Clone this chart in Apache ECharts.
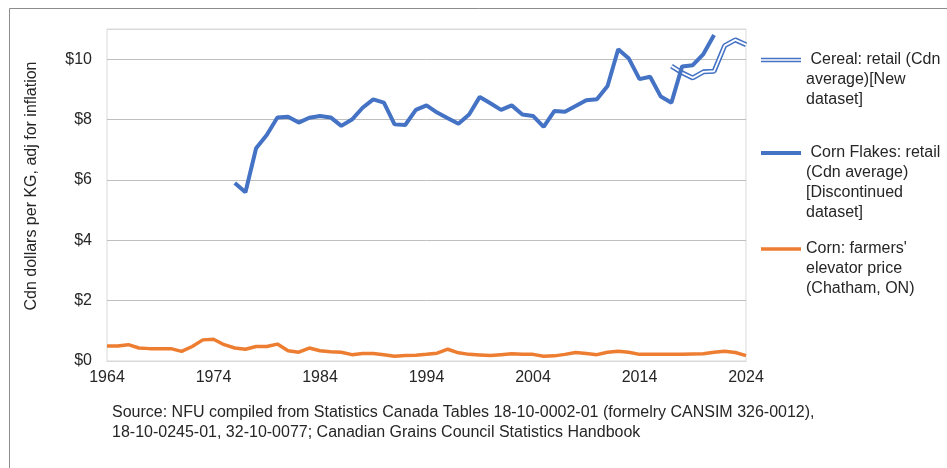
<!DOCTYPE html>
<html>
<head>
<meta charset="utf-8">
<script src="https://cdn.jsdelivr.net/npm/echarts@6/dist/echarts.min.js"></script>
<style>
  html, body { margin: 0; padding: 0; background: #fff; }
  #chart { width: 947px; height: 468px; }
</style>
</head>
<body>
<div id="chart"></div>
<script>
// corn flakes retail, discontinued dataset
const flakesYears = [1976, 1977, 1978, 1979, 1980, 1981, 1982, 1983, 1984, 1985, 1986, 1987, 1988, 1989, 1990,
  1991, 1992, 1993, 1994, 1995, 1996, 1997, 1998, 1999, 2000, 2001, 2002, 2003, 2004, 2005, 2006, 2007, 2008,
  2009, 2010, 2011, 2012, 2013, 2014, 2015, 2016, 2017, 2018, 2019, 2020, 2021]
const flakesValues = [5.90, 5.59, 7.05, 7.49, 8.07, 8.09, 7.90, 8.06, 8.12, 8.07, 7.79, 8.00, 8.39, 8.67, 8.56,
  7.84, 7.82, 8.32, 8.47, 8.23, 8.04, 7.86, 8.17, 8.75, 8.54, 8.32, 8.47, 8.17, 8.12, 7.76, 8.28, 8.26, 8.45,
  8.64, 8.67, 9.11, 10.33, 10.02, 9.34, 9.42, 8.76, 8.56, 9.76, 9.80, 10.17, 10.80]

// cereal retail, new dataset
const cerealYears = [2017, 2018, 2019, 2020, 2021, 2022, 2023, 2024]
const cerealValues = [9.77, 9.55, 9.38, 9.58, 9.60, 10.45, 10.64, 10.48]

// corn, farmers' elevator price
const cornYears = [1964, 1965, 1966, 1967, 1968, 1969, 1970, 1971, 1972, 1973, 1974, 1975, 1976, 1977, 1978,
  1979, 1980, 1981, 1982, 1983, 1984, 1985, 1986, 1987, 1988, 1989, 1990, 1991, 1992, 1993, 1994, 1995, 1996,
  1997, 1998, 1999, 2000, 2001, 2002, 2003, 2004, 2005, 2006, 2007, 2008, 2009, 2010, 2011, 2012, 2013, 2014,
  2015, 2016, 2017, 2018, 2019, 2020, 2021, 2022, 2023, 2024]
const cornValues = [0.50, 0.50, 0.54, 0.43, 0.41, 0.41, 0.41, 0.32, 0.48, 0.70, 0.72, 0.54, 0.43, 0.39, 0.48,
  0.48, 0.56, 0.34, 0.29, 0.43, 0.34, 0.31, 0.29, 0.21, 0.25, 0.25, 0.21, 0.16, 0.18, 0.19, 0.22, 0.26, 0.39,
  0.27, 0.22, 0.20, 0.18, 0.21, 0.24, 0.22, 0.22, 0.16, 0.17, 0.22, 0.28, 0.25, 0.21, 0.29, 0.32, 0.29, 0.22,
  0.22, 0.22, 0.22, 0.22, 0.23, 0.24, 0.29, 0.32, 0.28, 0.18]

const seriesNames = [
  ' Cereal: retail (Cdn\naverage)[New\ndataset]',
  ' Corn Flakes: retail\n(Cdn average)\n[Discontinued\ndataset]',
  'Corn: farmers\'\nelevator price\n(Chatham, ON)'
]
const sourceText = 'Source: NFU compiled from Statistics Canada Tables 18-10-0002-01 (formelry CANSIM 326-0012),\n18-10-0245-01, 32-10-0077; Canadian Grains Council Statistics Handbook'

const pair = (xs, ys) => xs.map((x, i) => [x, ys[i]])
const FONT = 'Liberation Sans, Arial, sans-serif'
const BLUE = '#4472c4'
const ORANGE = '#ed7d31'
const TEXT = '#262626'

// one legend per series; blank lines in front keep the icon level with the first text line
function legendBlock(name, iconY, icon) {
  const lines = name.split('\n').length
  return {
    data: [{ name, icon }],
    orient: 'vertical',
    left: 761,
    top: iconY - (lines - 1) * 20 - 10,
    padding: 0,
    itemWidth: 40,
    itemHeight: 5,
    selectedMode: false,
    formatter: n => '\n'.repeat(lines - 1) + n,
    textStyle: { fontFamily: FONT, fontSize: 16, color: TEXT, lineHeight: 20 }
  }
}

const chart = echarts.init(document.getElementById('chart'), null, { renderer: 'canvas' })
chart.setOption({
  animation: false,
  backgroundColor: '#fff',
  grid: {
    left: 107,
    right: 201,
    top: 29,
    bottom: 107,
    show: true,
    borderColor: '#d9d9d9',
    borderWidth: 1
  },
  legend: [
    legendBlock(seriesNames[0], 60, 'path://M0,0H40V1.4H0ZM0,3.1H40V4.5H0Z'),
    legendBlock(seriesNames[1], 153, 'path://M0,0H40V4H0Z'),
    legendBlock(seriesNames[2], 249, 'path://M0,0H40V3.5H0Z')
  ],
  xAxis: {
    type: 'value',
    min: 1964,
    max: 2024,
    interval: 10,
    axisLine: { show: true, lineStyle: { color: '#d9d9d9' } },
    axisTick: { show: false },
    splitLine: { show: false },
    axisLabel: { color: TEXT, fontFamily: FONT, fontSize: 16, margin: 9, formatter: v => String(v) }
  },
  yAxis: {
    type: 'value',
    min: 0,
    max: 11,
    interval: 2,
    name: 'Cdn dollars per KG, adj for inflation',
    nameLocation: 'middle',
    nameGap: 67,
    nameTextStyle: { color: TEXT, fontFamily: FONT, fontSize: 16, padding: [0, 0, 0, 18] },
    axisLine: { show: false },
    axisTick: { show: false },
    splitLine: {
      show: true,
      lineStyle: { color: ['#d9d9d9', '#bfbfbf', '#bfbfbf', '#bfbfbf', '#bfbfbf', '#bfbfbf', '#d9d9d9'], width: 1 }
    },
    axisLabel: {
      color: TEXT, fontFamily: FONT, fontSize: 16, margin: 15,
      formatter: v => (v % 2 === 0 ? '$' + v : '')
    }
  },
  graphic: [
    {
      type: 'rect',
      shape: { x: 9.5, y: 8.5, width: 1200, height: 1200 },
      style: { fill: null, stroke: '#8c8c8c', lineWidth: 1 },
      silent: true
    },
    {
      type: 'text',
      left: 112,
      top: 403,
      style: { text: sourceText, fontFamily: FONT, fontSize: 16, lineHeight: 20, fill: TEXT }
    }
  ],
  series: [
    {
      name: seriesNames[0],
      type: 'line',
      data: pair(cerealYears, cerealValues),
      symbol: 'none',
      color: BLUE,
      lineStyle: { color: BLUE, width: 5 },
      z: 2
    },
    {
      // white core that turns the cereal stroke into a double line
      name: 'cereal-core',
      type: 'line',
      data: pair(cerealYears, cerealValues),
      symbol: 'none',
      lineStyle: { color: '#fff', width: 1.8 },
      z: 3,
      silent: true
    },
    {
      name: seriesNames[1],
      type: 'line',
      data: pair(flakesYears, flakesValues),
      symbol: 'none',
      color: BLUE,
      lineStyle: { color: BLUE, width: 4 },
      z: 4
    },
    {
      name: seriesNames[2],
      type: 'line',
      data: pair(cornYears, cornValues),
      symbol: 'none',
      color: ORANGE,
      lineStyle: { color: ORANGE, width: 3.5 },
      z: 5
    }
  ]
})
</script>
</body>
</html>
